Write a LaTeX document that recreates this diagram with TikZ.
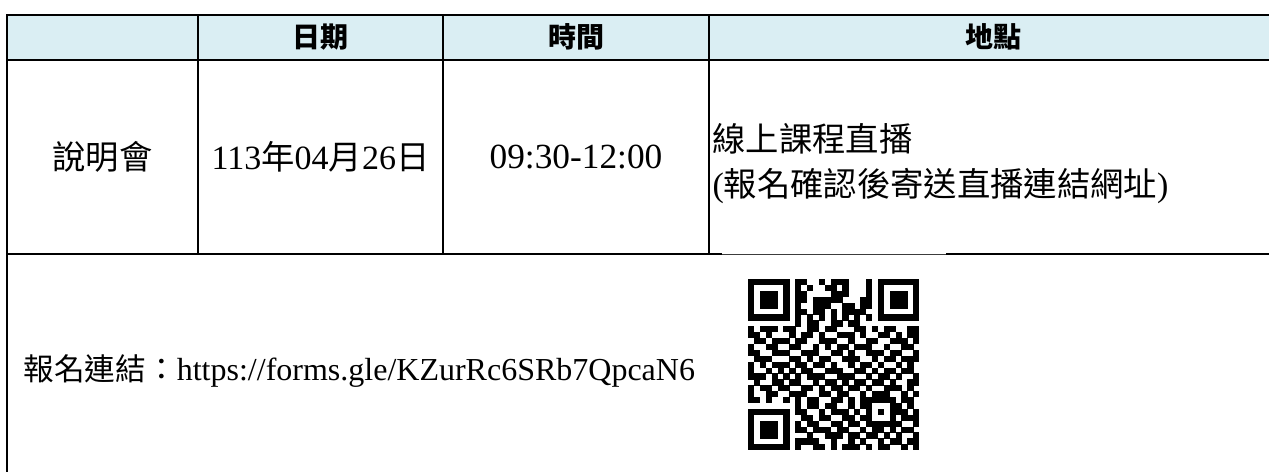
\documentclass[tikz,border=0pt]{standalone}
\usepackage{fontspec}
\setmainfont{Liberation Serif}
\newfontfamily\cjk{Noto Sans CJK TC}
\usetikzlibrary{calc}
\tikzset{every picture/.style={line width=0.75pt}}
\definecolor{headblue}{RGB}{218,238,243}
\tikzset{
  tblline/.style={line width=1.5pt},
  headtext/.style={inner sep=0.75pt, font=\cjk\bfseries\fontsize{21}{25}\selectfont},
  celltext/.style={inner sep=0.75pt, font=\fontsize{25.5}{30}\selectfont},
  timetext/.style={inner sep=0.75pt, font=\fontsize{26.5}{30}\selectfont},
  linktext/.style={inner sep=0.75pt, anchor=west, font=\fontsize{24}{28}\selectfont}
}
\newcommand\cjkmid{\cjk\fontsize{25}{30}\selectfont}
\newcommand\cjklink{\cjk\fontsize{23}{28}\selectfont}
% one row of the QR code, one module per digit
\newcount\qrcol
\def\qrmod{5.9}
\def\qrscan#1{%
  \ifx#1\relax\else
    \if1#1\fill (\the\qrcol*\qrmod+748,\qrrow*\qrmod+279) rectangle ++(\qrmod+0.3,\qrmod+0.3);\fi
    \advance\qrcol by 1
    \expandafter\qrscan
  \fi}

\begin{document}
\begin{tikzpicture}[x=0.75pt,y=0.75pt,yscale=-1,xscale=1]
\useasboundingbox (0,0) rectangle (1269,471);
\clip (0,0) rectangle (1269,471);

%Shape: Rectangle [header]
\fill [headblue] (7,14.5) rectangle (1277,59.5);
%Straight Lines [rows]
\draw [tblline] (6,14.5) -- (1277,14.5);
\draw [tblline] (6,59.5) -- (1277,59.5);
\draw [tblline] (6,254) -- (722,254);
\draw [tblline] (946,254) -- (1277,254);
\draw [color={rgb, 255:red, 60; green, 60; blue, 60}] (722,254.5) -- (946,254.5);
%Straight Lines [columns]
\draw [tblline] (7,14.5) -- (7,480);
\draw [tblline] (198,14.5) -- (198,254);
\draw [tblline] (443,14.5) -- (443,254);
\draw [tblline] (709,14.5) -- (709,254);

% Text Node
\draw (320.5,37) node [headtext] (hdate) {日期};
% Text Node
\draw (576,37) node [headtext] (htime) {時間};
% Text Node
\draw (993,37) node [headtext] (hplace) {地點};
% Text Node
\draw (102.5,157) node [celltext] (event) {\cjkmid 說明會};
% Text Node
\draw (320.5,157) node [celltext] (date) {113{\cjkmid 年}04{\cjkmid 月}26{\cjkmid 日}};
% Text Node
\draw (576,157) node [timetext] (time) {09:30-12:00};
% Text Node
\draw (711,139) node [celltext, anchor=west] (place) {\cjkmid 線上課程直播};
% Text Node
\draw (711,186) node [celltext, anchor=west] (placenote) {({\cjkmid 報名確認後寄送直播連結網址})};
% Text Node
\draw (22,371) node [linktext] (signup) {{\cjklink 報名連結：}https://forms.gle/KZurRc6SRb7QpcaN6};

%QR code
\foreach \bits [count=\qrrow from 0] in {
  1111111 0 1100101110001 0 1111111,
  1000001 0 1010011010001 0 1000001,
  1011101 0 1100001110001 0 1011101,
  1011101 0 1101111100011 0 1011101,
  1011101 0 1001110011011 0 1011101,
  1000001 0 1101101011110 0 1000001,
  1111111 0 1010101010101 0 1111111,
  0000000 0 1011001101100 0 0000000,
  101110 1 10 011011000110 10110011,
  110100 0 1011010011101001101011,
  011011 1 0110011100100110011101,
  100110 0 1100101011011100100110,
  110011 1 0011100110100111011001,
  011100 0 1101011001110010110111,
  101011 1 0110110100101101001010,
  100101 0 1011001110011010110110,
  111010 1 0101110011100101101001,
  010011 0 1100101101011011010011,
  101101 1 0011010110110100111010,
  100110 0 1110011011001011100101,
  110100 1 0101100110101 11111 0110,
  00000000 1 01101100101 10001 1010,
  1111111 0 1 10010111010 10101 1101,
  1000001 0 0 11011001101 10001 0111,
  1011101 0 1 01100110110 11111 1001,
  1011101 0 1 10111011001 011010110,
  1011101 0 0 01001110110 110101001,
  1000001 0 1 11100100101 001011011,
  1111111 0 1 00110101110 101100101}
{\qrcol=0 \expandafter\qrscan\bits\relax}

\end{tikzpicture}
\end{document}
